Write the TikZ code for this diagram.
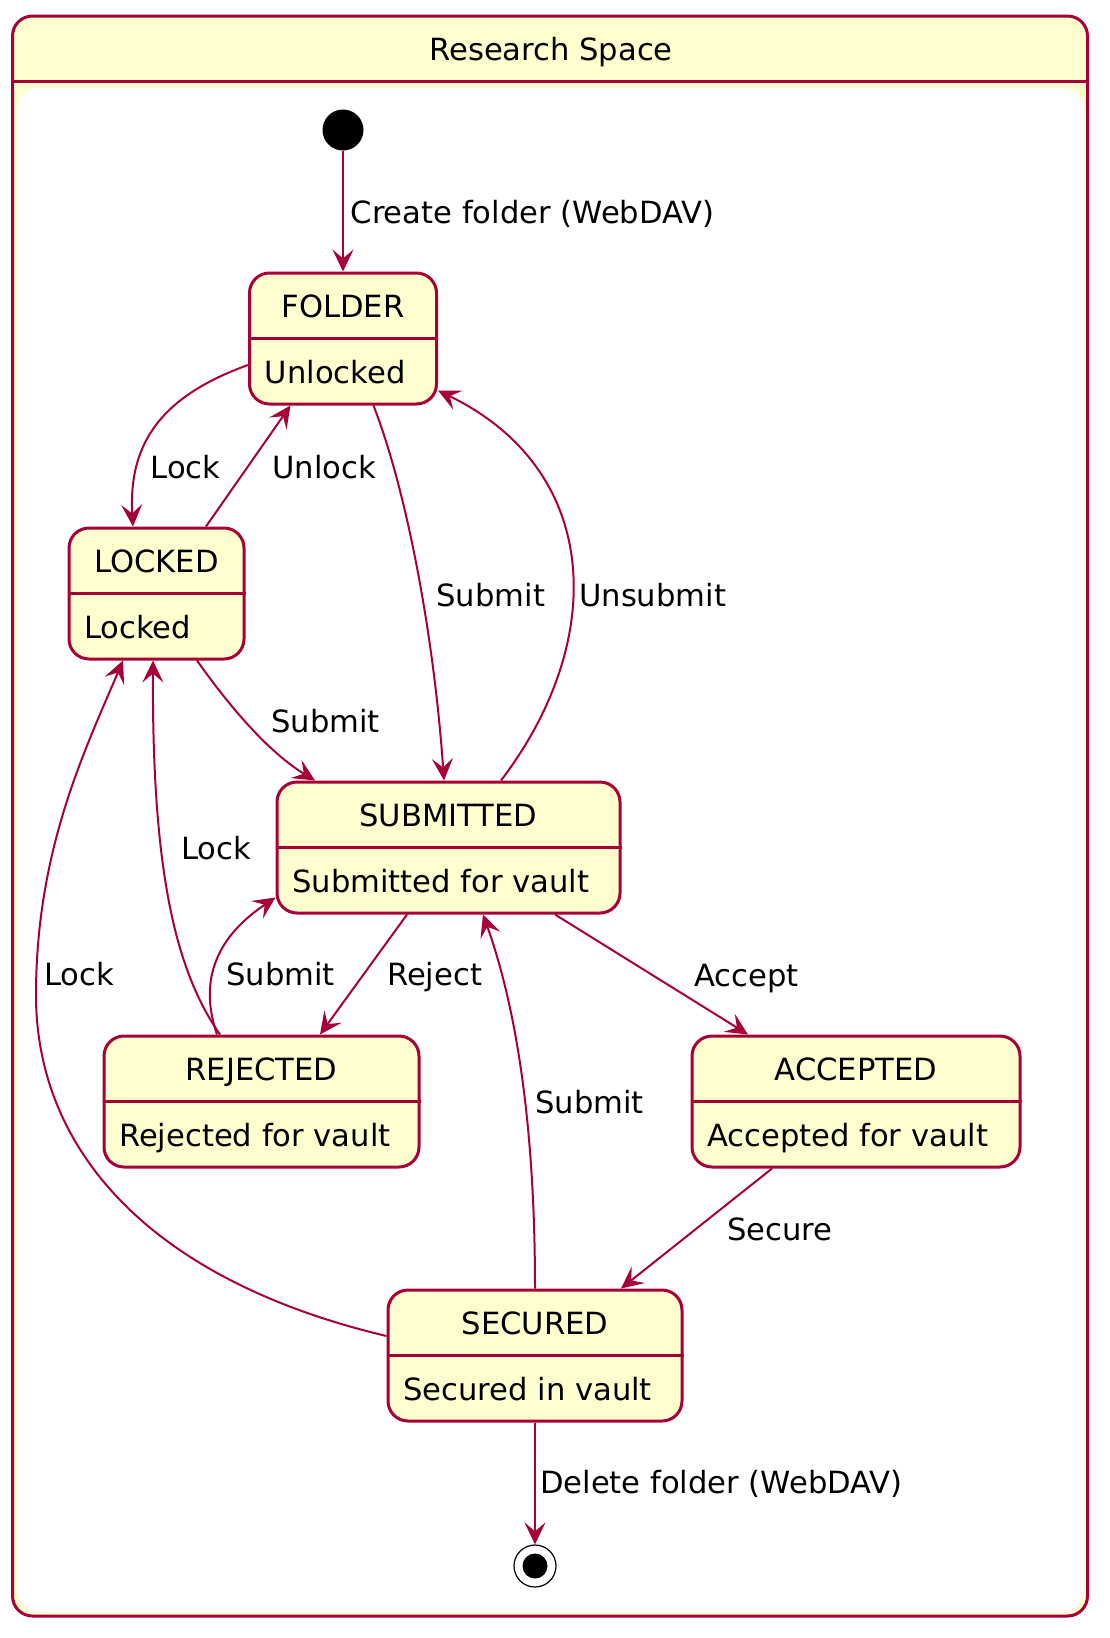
\documentclass[tikz,border=0pt]{standalone}
\usepackage{fontspec}
\setmainfont{DejaVu Sans}
\usetikzlibrary{arrows.meta}
\definecolor{umlred}{HTML}{A80036}
\definecolor{umlyellow}{HTML}{FEFECE}
\tikzset{
	state/.style={draw=umlred, fill=umlyellow, line width=3pt, rounded corners=20pt, minimum height=131pt, inner sep=0pt},
	divider/.style={draw=umlred, line width=3pt},
	statetitle/.style={anchor=base, inner sep=0pt},
	statebody/.style={anchor=base west, inner sep=0pt},
	trans/.style={draw=umlred, line width=2pt, -{Stealth[length=22pt,width=21pt,inset=9pt]}},
	lbl/.style={anchor=base west, inner sep=0pt},
}
\def\statebox(#1)(#2,#3)(#4)#5#6{%
	\node[state, minimum width=#4] (#1) at (#2,#3) {};
	\draw[divider] (#1.west) -- (#1.east);
	\node[statetitle] (#1-title) at ([yshift=21pt]#1.center) {#5};
	\node[statebody] (#1-body) at ([xshift=16.5pt,yshift=-44.5pt]#1.west) {#6};
}

\begin{document}
\begin{tikzpicture}[x=1pt, y=-1pt, font=\fontsize{30.6}{36}\selectfont]
			%%%%% START %%%%%
			\useasboundingbox (0,0) rectangle (1110,1638);
			
			\fill[umlyellow, rounded corners=20pt] (12.5,16) rectangle (1087.5,1616);
			\fill[white, rounded corners=20pt] (18,88) rectangle (1083,1612);
			\draw[divider] (12.5,81) -- (1087.5,81);
			\draw[umlred, line width=3pt, rounded corners=20pt] (12.5,16) rectangle (1087.5,1616);
			\node[statetitle] (space) at (551,60) {Research Space};
			
			\node[circle, fill=black, minimum size=41pt, inner sep=0pt] (init) at (343,130) {};
			\node[circle, draw=black, line width=1.2pt, minimum size=42pt, inner sep=0pt] (final) at (535,1566) {};
			\node[circle, fill=black, minimum size=25pt, inner sep=0pt] (finaldot) at (final) {};
			
			\statebox(folder)(343,338.5)(187){FOLDER}{Unlocked}
			\statebox(locked)(156.5,593.5)(175){LOCKED}{Locked}
			\statebox(submitted)(448.5,847.5)(343){SUBMITTED}{Submitted for vault}
			\statebox(rejected)(261.5,1101.5)(315){REJECTED}{Rejected for vault}
			\statebox(accepted)(856,1101.5)(328){ACCEPTED}{Accepted for vault}
			\statebox(secured)(535,1355.5)(294){SECURED}{Secured in vault}
			
			\coordinate (lockbend) at (36,995);
			
			\draw[trans] (init) -- (folder);
			\draw[trans] ([yshift=-26.5pt]folder.west) .. controls (165,395) and (128,440) .. ([xshift=-23.5pt]locked.north);
			\draw[trans] ([xshift=49.5pt]locked.north) -- ([xshift=-52.5pt]folder.south);
			\draw[trans] ([xshift=30.5pt]folder.south) .. controls (410,500) and (435,650) .. ([xshift=-4.5pt]submitted.north);
			\draw[trans] ([xshift=52.5pt]submitted.north) .. controls (608,640) and (602,470) .. ([yshift=-52pt]folder.east);
			\draw[trans] ([xshift=40.5pt]locked.south) .. controls (225,700) and (265,750) .. ([xshift=-133.5pt]submitted.north);
			\draw[trans] ([yshift=19.5pt]secured.west) .. controls (150,1280) and (36,1150) .. (lockbend) .. controls (36,850) and (85,750) .. ([xshift=-33.5pt]locked.south);
			\draw[trans] ([xshift=-41.5pt]rejected.north) .. controls (175,970) and (152,870) .. ([xshift=-3.5pt]locked.south);
			\draw[trans] ([xshift=-44.5pt]rejected.north) .. controls (200,985) and (212,940) .. ([yshift=-50pt]submitted.west);
			\draw[trans] ([xshift=-41.5pt]submitted.south) -- ([xshift=58.5pt]rejected.north);
			\draw[trans] (secured.north) .. controls (535,1100) and (510,990) .. ([xshift=34.5pt]submitted.south);
			\draw[trans] ([xshift=106.5pt]submitted.south) -- ([xshift=-108pt]accepted.north);
			\draw[trans] ([xshift=-84pt]accepted.south) -- ([xshift=86pt]secured.north);
			\draw[trans] (secured) -- (final);
			
			\node[lbl] (lcreate) at (350.5,223) {Create folder (WebDAV)};
			\node[lbl] (llock) at (150.3,478) {Lock};
			\node[lbl] (lunlock) at (272.3,478) {Unlock};
			\node[lbl] (lsubmit) at (436.3,606) {Submit};
			\node[lbl] (lunsubmit) at (579,606) {Unsubmit};
			\node[lbl] (lsubmitlocked) at (271,732) {Submit};
			\node[lbl] (llockrejected) at (181,859) {Lock};
			\node[lbl] (llocksecured) at (44,985) {Lock};
			\node[lbl] (lsubmitrejected) at (226,985) {Submit};
			\node[lbl] (lreject) at (387,985) {Reject};
			\node[lbl] (laccept) at (694,986) {Accept};
			\node[lbl] (lsubmitsecured) at (535,1113) {Submit};
			\node[lbl] (lsecure) at (727,1240) {Secure};
			\node[lbl] (ldelete) at (540,1493) {Delete folder (WebDAV)};
			
			%%%%% END %%%%%
\end{tikzpicture}
\end{document}
